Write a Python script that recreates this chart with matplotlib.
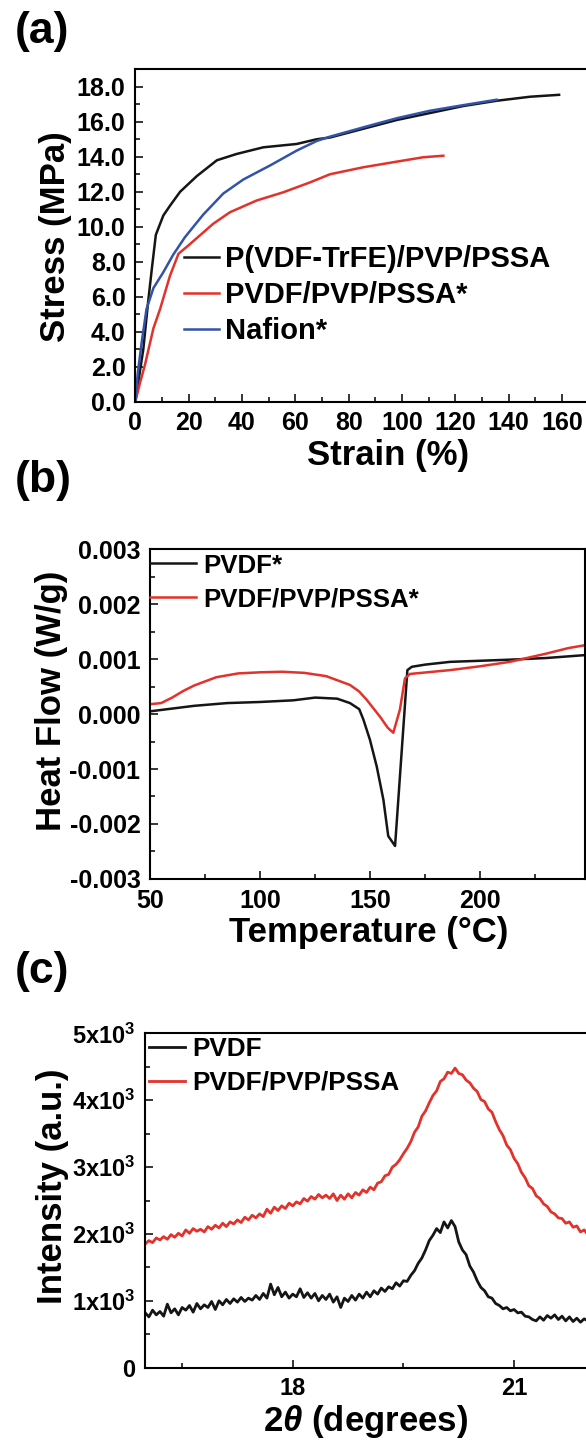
import numpy as np
import matplotlib
matplotlib.use('Agg')
import matplotlib.pyplot as plt
from matplotlib.ticker import MultipleLocator, FuncFormatter

plt.rcParams['font.family'] = ['Liberation Sans', 'DejaVu Sans']
plt.rcParams['font.weight'] = 'bold'
plt.rcParams['axes.labelweight'] = 'bold'
plt.rcParams['axes.unicode_minus'] = False
plt.rcParams['mathtext.fontset'] = 'custom'
plt.rcParams['mathtext.rm'] = 'Liberation Sans'
plt.rcParams['mathtext.it'] = 'Liberation Sans:style=italic:weight=bold'
plt.rcParams['mathtext.bf'] = 'Liberation Sans:weight=bold'

BLACK = '#151515'
RED = '#e3312b'
BLUE = '#3353a9'

# (a) stress-strain
strain_trfe = [0, 1.2, 3.0, 4.8, 6.2, 7.7, 10.5, 13.0, 16.8, 23.1, 30.6, 38.0, 48.0, 60.5,
               68.0, 73.0, 85.5, 98.0, 110.5, 123.0, 135.5, 148.0, 158.9]
stress_trfe = [0, 1.2, 3.0, 5.7, 7.6, 9.54, 10.64, 11.2, 12.0, 12.9, 13.8, 14.16, 14.54, 14.73,
               15.0, 15.1, 15.6, 16.1, 16.5, 16.9, 17.2, 17.43, 17.54]
strain_pvdf = [0, 1.8, 3.6, 6.8, 9.3, 13.0, 16.2, 19.9, 29.2, 35.5, 45.5, 55.5, 65.6, 73.0,
               85.5, 98.0, 107.9, 115.5]
stress_pvdf = [0, 1.1, 2.1, 4.2, 5.3, 7.2, 8.46, 8.93, 10.17, 10.83, 11.5, 11.97, 12.54, 13.0,
               13.4, 13.72, 13.97, 14.06]
strain_nafion = [0, 0.9, 2.4, 4.2, 6.8, 10.5, 14.2, 18.6, 25.5, 33.0, 40.5, 50.5, 60.5, 68.0,
                 73.0, 85.5, 98.0, 110.5, 123.0, 135.5]
stress_nafion = [0, 1.6, 3.4, 5.3, 6.5, 7.4, 8.4, 9.4, 10.7, 11.9, 12.7, 13.5, 14.35, 14.9,
                 15.15, 15.68, 16.2, 16.63, 16.95, 17.26]

# (b) DSC
temp_pvdf = [50, 60, 70, 85, 100, 115, 125, 135, 140.8, 145, 146.9, 149.9, 153, 156, 158.2,
             161.3, 166.9, 168.9, 175, 186.3, 200, 213.5, 230, 250]
heat_pvdf = [0.00005, 0.0001, 0.00015, 0.0002, 0.00022, 0.00025, 0.0003, 0.00028, 0.0002,
             0.00009, -0.0001, -0.00047, -0.00096, -0.00156, -0.00222, -0.0024, 0.0008,
             0.00086, 0.0009, 0.00095, 0.00097, 0.00099, 0.00102, 0.00108]
temp_blend = [50, 55, 60, 65, 70, 80, 90, 100, 110, 120, 130, 140.8, 145, 148.4, 154.5,
              158, 160.5, 163.5, 165.8, 168.1, 186.3, 200, 213.5, 230, 240, 250]
heat_blend = [0.00018, 0.0002, 0.0003, 0.00042, 0.00052, 0.00067, 0.00074, 0.00076, 0.00077,
              0.00075, 0.00069, 0.00053, 0.00041, 0.00026, -0.00005, -0.00025, -0.00034,
              0.00008, 0.00065, 0.00073, 0.0008, 0.00087, 0.00095, 0.0011, 0.0012, 0.00127]

# (c) XRD, 2theta grid 16.00 ... 22.00 step 0.05
two_theta = np.round(np.arange(16.0, 22.001, 0.05), 2)
xrd_pvdf = [820, 760, 860, 790, 840, 770, 950, 820, 880, 790,
            900, 860, 930, 830, 960, 880, 940, 900, 990, 870,
            1000, 940, 1020, 960, 1030, 980, 1050, 990, 1040, 1010,
            1080, 1020, 1110, 1040, 1250, 1090, 1200, 1060, 1130, 1040,
            1100, 1060, 1180, 1050, 1120, 1040, 1110, 1000, 1080, 1020,
            1100, 980, 1060, 900, 1040, 990, 1080, 1010, 1100, 1040,
            1130, 1060, 1150, 1100, 1190, 1140, 1210, 1180, 1270, 1220,
            1300, 1290, 1380, 1450, 1560, 1640, 1760, 1900, 1980, 2080,
            2020, 2180, 2090, 2200, 2110, 1880, 1760, 1690, 1520, 1430,
            1300, 1200, 1150, 1060, 1040, 960, 930, 880, 900, 850,
            870, 820, 830, 770, 760, 720, 700, 760, 710, 780,
            740, 790, 720, 770, 700, 760, 690, 740, 680, 730,
            700]
xrd_blend = [1850, 1900, 1870, 1940, 1910, 1960, 1920, 1990, 1950, 2010,
             1970, 2060, 2010, 2080, 2040, 2070, 2030, 2110, 2070, 2130,
             2090, 2160, 2110, 2180, 2150, 2210, 2170, 2250, 2210, 2280,
             2240, 2300, 2260, 2370, 2310, 2400, 2350, 2420, 2380, 2460,
             2420, 2480, 2450, 2530, 2490, 2560, 2520, 2590, 2540, 2580,
             2530, 2600, 2500, 2580, 2520, 2600, 2540, 2620, 2580, 2660,
             2620, 2700, 2660, 2760, 2780, 2870, 2890, 3000, 3040, 3110,
             3200, 3280, 3380, 3520, 3600, 3760, 3840, 3960, 4070, 4140,
             4280, 4320, 4420, 4400, 4480, 4400, 4380, 4300, 4260, 4180,
             4130, 4010, 3980, 3870, 3820, 3680, 3560, 3470, 3330, 3260,
             3130, 3050, 2920, 2840, 2720, 2680, 2570, 2530, 2450, 2410,
             2330, 2300, 2240, 2230, 2160, 2180, 2100, 2120, 2030, 2060,
             1990]

fig = plt.figure(figsize=(5.86, 14.43), dpi=100)
ax1 = fig.add_axes([0.2309, 0.7216, 0.7737, 0.2304])
ax2 = fig.add_axes([0.2563, 0.3909, 0.7415, 0.2285])
ax3 = fig.add_axes([0.2478, 0.0522, 0.8183, 0.2317])


def style(ax, size):
    for s in ax.spines.values():
        s.set_linewidth(1.5)
    ax.tick_params(which='both', direction='in', width=1.1, labelsize=size, pad=7)
    ax.tick_params(which='major', length=6)
    ax.tick_params(which='minor', length=3.5)


# --- (a)
ax1.plot(strain_trfe, stress_trfe, color=BLACK, lw=1.8, label='P(VDF-TrFE)/PVP/PSSA')
ax1.plot(strain_pvdf, stress_pvdf, color=RED, lw=1.8, label='PVDF/PVP/PSSA*')
ax1.plot(strain_nafion, stress_nafion, color=BLUE, lw=1.8, label='Nafion*')
ax1.set_xlim(0, 170)
ax1.set_ylim(0, 19)
ax1.xaxis.set_major_locator(MultipleLocator(20))
ax1.xaxis.set_minor_locator(MultipleLocator(10))
ax1.yaxis.set_major_locator(MultipleLocator(2))
ax1.yaxis.set_minor_locator(MultipleLocator(1))
ax1.yaxis.set_major_formatter(FuncFormatter(lambda v, p: '%.1f' % v))
style(ax1, 18)
ax1.set_xlabel('Strain (%)', fontsize=25, va='center')
ax1.set_ylabel('Stress (MPa)', fontsize=25, va='center')
ax1.xaxis.set_label_coords(0.557, -0.163)
ax1.yaxis.set_label_coords(-0.177, 0.497)
ax1.legend(loc='upper left', bbox_to_anchor=(0.3145, 0.8302), bbox_transform=fig.transFigure,
           frameon=False, fontsize=21, handlelength=1.2, handletextpad=0.2,
           labelspacing=0.27, borderpad=0, borderaxespad=0)

# --- (b)
ax2.plot(temp_pvdf, heat_pvdf, color=BLACK, lw=1.8, label='PVDF*')
ax2.plot(temp_blend, heat_blend, color=RED, lw=1.8, label='PVDF/PVP/PSSA*')
ax2.set_xlim(50, 247.5)
ax2.set_ylim(-0.003, 0.003)
ax2.xaxis.set_major_locator(MultipleLocator(50))
ax2.xaxis.set_minor_locator(MultipleLocator(25))
ax2.yaxis.set_major_locator(MultipleLocator(0.001))
ax2.yaxis.set_minor_locator(MultipleLocator(0.0005))
ax2.yaxis.set_major_formatter(FuncFormatter(lambda v, p: '%.3f' % v))
style(ax2, 18)
ax2.set_xlabel('Temperature (°C)', fontsize=25, va='center')
ax2.set_ylabel('Heat Flow (W/g)', fontsize=25, va='center')
ax2.xaxis.set_label_coords(0.503, -0.161)
ax2.yaxis.set_label_coords(-0.226, 0.54)
ax2.legend(loc='upper left', bbox_to_anchor=(0.256, 0.6164), bbox_transform=fig.transFigure,
           frameon=False, fontsize=18.6, handlelength=1.78, handletextpad=0.3,
           labelspacing=0.37, borderpad=0, borderaxespad=0)

# --- (c)
ax3.plot(two_theta, xrd_pvdf, color=BLACK, lw=2.0, label='PVDF')
ax3.plot(two_theta, xrd_blend, color=RED, lw=2.0, label='PVDF/PVP/PSSA')
ax3.set_xlim(16, 22.5)
ax3.set_ylim(0, 5000)
ax3.xaxis.set_major_locator(MultipleLocator(3))
ax3.xaxis.set_minor_locator(MultipleLocator(1.5))
ax3.yaxis.set_major_locator(MultipleLocator(1000))
ax3.yaxis.set_minor_locator(MultipleLocator(500))
ax3.yaxis.set_major_formatter(FuncFormatter(
    lambda v, p: '0' if v == 0 else '%dx10$^{\\mathrm{3}}$' % round(v / 1000)))
style(ax3, 17)
ax3.set_xlabel('2$\\theta$ (degrees)', fontsize=25, va='center')
ax3.set_ylabel('Intensity (a.u.)', fontsize=25, va='center')
ax3.xaxis.set_label_coords(0.46, -0.162)
ax3.yaxis.set_label_coords(-0.194, 0.543)
ax3.legend(loc='upper left', bbox_to_anchor=(0.2551, 0.2816), bbox_transform=fig.transFigure,
           frameon=False, fontsize=18.8, handlelength=1.36, handletextpad=0.29,
           labelspacing=0.39, borderpad=0, borderaxespad=0)

# panel letters
fig.text(15 / 586, 1 - 31 / 1443, '(a)', fontsize=32, va='center', ha='left')
fig.text(15 / 586, 1 - 481 / 1443, '(b)', fontsize=32, va='center', ha='left')
fig.text(15 / 586, 1 - 971 / 1443, '(c)', fontsize=32, va='center', ha='left')

fig.savefig('out.png', dpi=100)
